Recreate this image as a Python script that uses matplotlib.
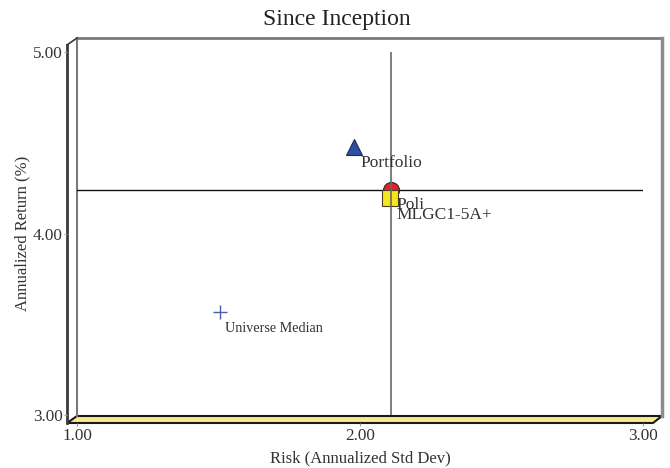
import matplotlib
matplotlib.use("Agg")
import matplotlib.pyplot as plt
from matplotlib.patches import Polygon

plt.rcParams['font.family'] = ['Liberation Serif', 'DejaVu Serif']

# data
names = ["Portfolio", "MLGC1-5A+", "Poli", "Universe Median"]
risk = [1.98, 2.11, 2.105, 1.505]
ret = [4.475, 4.24, 4.195, 3.565]
x_ticks = [1.0, 2.0, 3.0]
y_ticks = [3.0, 4.0, 5.0]
x_tick_labels = ["1.00", "2.00", "3.00"]
y_tick_labels = ["3.00", "4.00", "5.00"]

W, H = 670, 468
fig = plt.figure(figsize=(W / 100, H / 100), dpi=100)

# pseudo 3d frame, drawn in pixel space
bg = fig.add_axes([0, 0, 1, 1], zorder=0)
bg.set_xlim(0, W)
bg.set_ylim(H, 0)
bg.axis("off")
bg.add_patch(Polygon([(67, 45), (77, 38), (77, 416), (67, 423)], closed=True,
                     facecolor="white", edgecolor="none"))
bg.plot([77, 662], [38, 38], color="#7a7a7a", lw=2)
bg.plot([662, 662], [38, 416], color="#8c8c8c", lw=2.5)
bg.plot([77, 77], [38, 416], color="#7a7a7a", lw=1.5)
bg.plot([67, 67], [45, 423], color="#3a3a3a", lw=2)
bg.plot([67, 77], [45, 38], color="#3a3a3a", lw=1.2)
bg.add_patch(Polygon([(67, 423), (77, 416), (662, 416), (653, 423)], closed=True,
                     facecolor="#f6ec88", edgecolor="#1a1a1a", lw=1.5))

ax = fig.add_axes([77 / W, 1 - 415 / H, 566 / W, 363 / H], zorder=1)
ax.patch.set_alpha(0)
ax.set_xlim(1, 3)
ax.set_ylim(3, 5)

# crosshair through the benchmark
ax.axhline(ret[1], color="#111111", lw=1, zorder=2)

ax.plot(risk[1], ret[1], "o", ms=11.5, mfc="#e8202a", mec="#3a2020", mew=0.8, zorder=3)
ax.plot(risk[2], ret[2], "s", ms=11, mfc="#f6e61e", mec="#4a4020", mew=0.8, zorder=4)
ax.plot(risk[0], ret[0], "^", ms=12, mfc="#2f4fa2", mec="#1d2a55", mew=0.8, zorder=4)
ax.plot(risk[3], ret[3], "+", ms=10, mew=1, color="#4a5cb0", zorder=4)
ax.axvline(risk[1], color="#6a6a6a", lw=1.2, zorder=5)

ax.annotate(names[0], (risk[0], ret[0]), xytext=(6, -16), textcoords="offset pixels",
            ha="left", va="center", fontsize=12.5, color="#333333", zorder=6)
ax.annotate(names[2], (risk[2], ret[2]), xytext=(7, -7), textcoords="offset pixels",
            ha="left", va="center", fontsize=12.5, color="#333333", zorder=6)
ax.annotate(names[1], (risk[1], ret[1]), xytext=(5, -25), textcoords="offset pixels",
            ha="left", va="center", fontsize=12.5, color="#333333", zorder=6)
ax.annotate(names[3], (risk[3], ret[3]), xytext=(5, -16), textcoords="offset pixels",
            ha="left", va="center", fontsize=10.2, color="#333333", zorder=6)

for s in ["top", "right"]:
    ax.spines[s].set_visible(False)
ax.spines["left"].set_position(("outward", 7.2))
ax.spines["bottom"].set_position(("outward", 5.8))
ax.spines["left"].set_visible(False)
ax.spines["bottom"].set_visible(False)
ax.set_xticks(x_ticks, x_tick_labels)
ax.set_yticks(y_ticks, y_tick_labels)
ax.tick_params(axis="both", direction="out", length=2.2, width=0.8, color="#9a9a9a",
               labelsize=12.3, labelcolor="#333333", pad=1)

ax.set_xlabel("Risk (Annualized Std Dev)", fontsize=12, color="#333333")
ax.set_ylabel("Annualized Return (%)", fontsize=12, color="#333333")
ax.xaxis.set_label_coords(0.5, (415 - 450) / 363)
ax.yaxis.set_label_coords((30 - 77) / 566, 0.5)

fig.text(337 / W, 1 - 20 / H, "Since Inception", ha="center", va="center",
         fontsize=17, color="#222222")

fig.savefig("out.png", dpi=100)
